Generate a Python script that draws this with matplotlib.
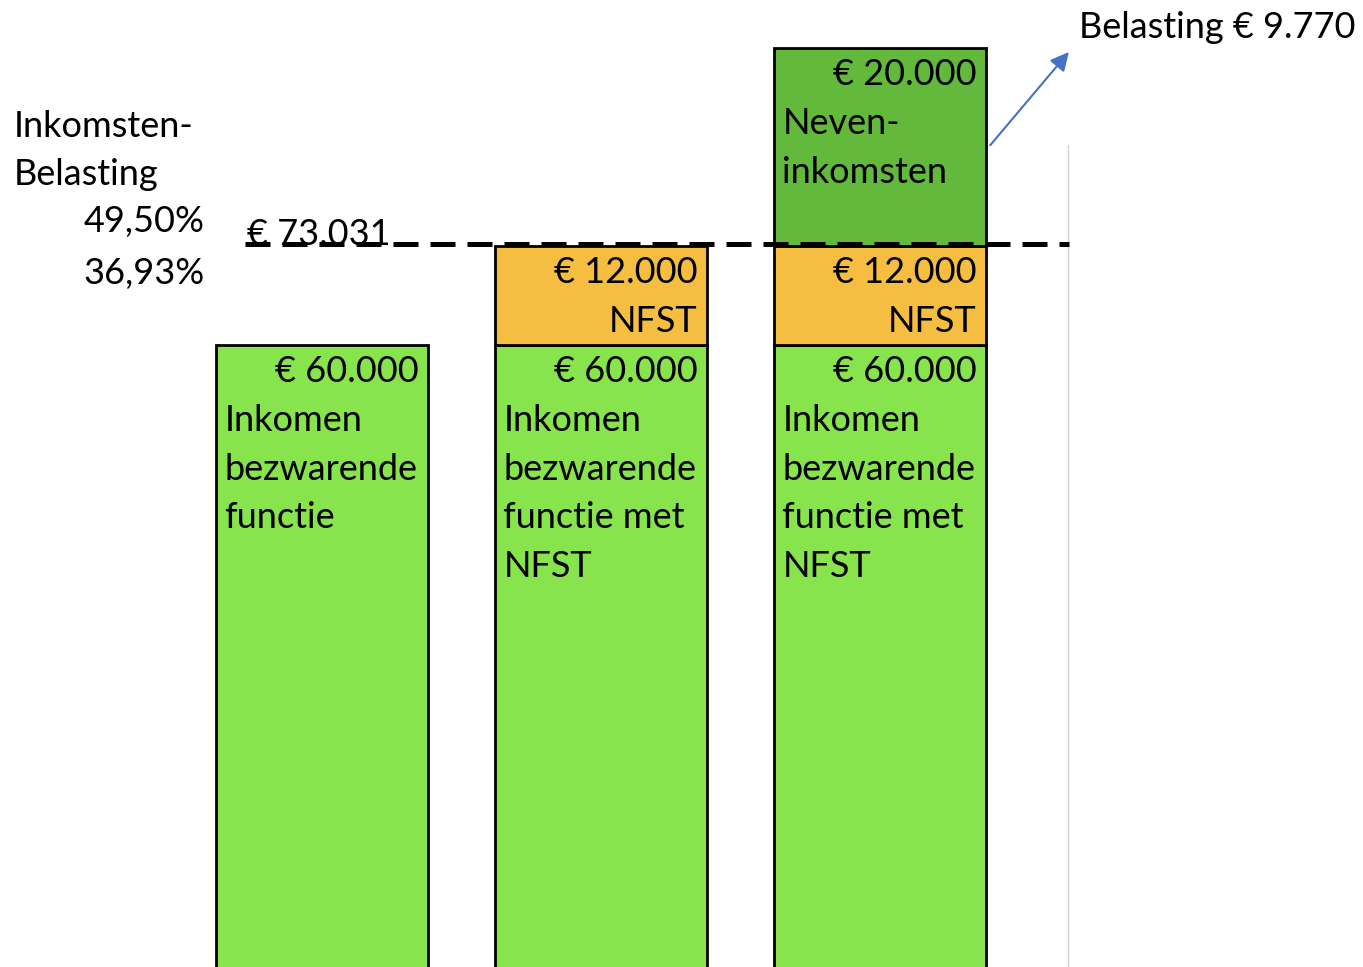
import matplotlib
matplotlib.use('Agg')
import matplotlib.pyplot as plt

plt.rcParams['font.family'] = ['Lato', 'DejaVu Sans']

# drie kolommen, segmenten van onder naar boven (hoogte in schetseenheden zoals getekend)
kolommen = [0, 1, 2]
hoogte_basis = [80, 80, 80]
hoogte_nfst = [0, 12, 12]
hoogte_neven = [0, 0, 24]

bedrag_basis = ['€ 60.000', '€ 60.000', '€ 60.000']
tekst_basis = ['Inkomen\nbezwarende\nfunctie',
               'Inkomen\nbezwarende\nfunctie met\nNFST',
               'Inkomen\nbezwarende\nfunctie met\nNFST']
bedrag_nfst = '€ 12.000'
bedrag_neven = '€ 20.000'
grens = 92
grens_label = '€ 73.031'
tarief_boven = '49,50%'
tarief_onder = '36,93%'
belasting_label = 'Belasting € 9.770'

fig = plt.figure(figsize=(13.63, 9.67), dpi=100)
fig.set_facecolor('white')
ax = fig.add_axes([0, 0, 1, 1])
ax.set_xlim(-1.154, 3.731)
ax.set_ylim(4.6, 121.8)
ax.axis('off')

breedte = 0.76
lw = 2.0
ax.bar(kolommen, hoogte_basis, width=breedte, color='#88E44C', edgecolor='black', lw=lw, zorder=2)
for i in kolommen:
    if hoogte_nfst[i] > 0:
        ax.bar(i, hoogte_nfst[i], bottom=hoogte_basis[i], width=breedte,
               color='#F5BE41', edgecolor='black', lw=lw, zorder=2)
    if hoogte_neven[i] > 0:
        ax.bar(i, hoogte_neven[i], bottom=hoogte_basis[i] + hoogte_nfst[i], width=breedte,
               color='#63B93C', edgecolor='black', lw=lw, zorder=2)

fs = 26
regel = 35  # punten tussen regels

def schrijf(x, y, s, ha, dx, n):
    # n = regelnummer onder de bovenkant van het segment
    ax.annotate(s, xy=(x, y), xytext=(dx, -19.5 - n * regel), textcoords='offset points',
                ha=ha, va='center', fontsize=fs, zorder=5)

for i in kolommen:
    links = i - breedte / 2
    rechts = i + breedte / 2
    top = hoogte_basis[i]
    schrijf(rechts, top, bedrag_basis[i], 'right', -7, 0)
    for n, r in enumerate(tekst_basis[i].split('\n')):
        schrijf(links, top, r, 'left', 6, n + 1)
    if hoogte_nfst[i] > 0:
        top = hoogte_basis[i] + hoogte_nfst[i]
        schrijf(rechts, top, bedrag_nfst, 'right', -7, 0)
        schrijf(rechts, top, 'NFST', 'right', -7, 1)
    if hoogte_neven[i] > 0:
        top = hoogte_basis[i] + hoogte_nfst[i] + hoogte_neven[i]
        schrijf(rechts, top, bedrag_neven, 'right', -7, 0)
        schrijf(links, top, 'Neven-', 'left', 6, 1)
        schrijf(links, top, 'inkomsten', 'left', 6, 2)

# belastinggrens
ax.plot([-0.276, 2.677], [grens + 0.2, grens + 0.2], color='black', lw=3.6,
        dashes=(5, 2.4), zorder=4)
ax.text(-0.27, grens + 1.4, grens_label, fontsize=fs, ha='left', va='center', zorder=3)
ax.text(-0.42, grens + 3, tarief_boven, fontsize=fs, ha='right', va='center')
ax.text(-0.42, grens - 3.3, tarief_onder, fontsize=fs, ha='right', va='center')
ax.text(-1.104, 103.6, 'Inkomsten-\nBelasting', fontsize=fs, ha='left', va='center',
        linespacing=1.55)

# grijze lijn rechts
ax.plot([2.674, 2.674], [4.6, 104.2], color='#D0D0D0', lw=1, zorder=1)

# pijl naar belasting
ax.annotate('', xy=(2.677, 115.5), xytext=(2.395, 104.2),
            arrowprops=dict(arrowstyle='-|>', color='#4472C4', lw=1.5, mutation_scale=28,
                            shrinkA=0, shrinkB=0))
ax.text(2.713, 118.5, belasting_label, fontsize=fs, ha='left', va='center')

plt.savefig('out.png', dpi=100)
